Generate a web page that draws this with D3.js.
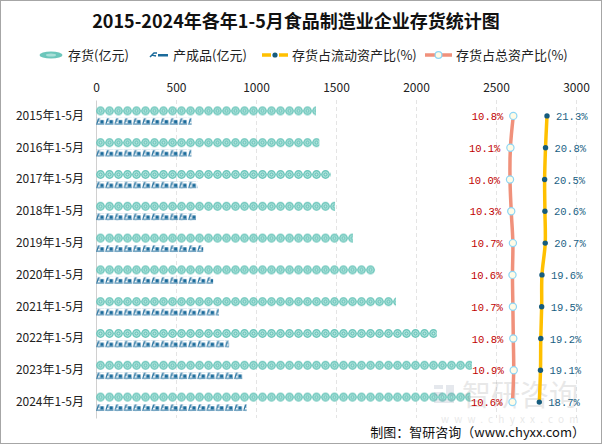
<!DOCTYPE html>
<html>
<head>
<meta charset="utf-8">
<script src="https://cdn.jsdelivr.net/npm/d3@7"></script>
<style>
  body { margin: 0; background: #fff; }
</style>
</head>
<body>
<div id="chart"></div>
<script>
const categories = ["2015年1-5月", "2016年1-5月", "2017年1-5月", "2018年1-5月", "2019年1-5月",
                    "2020年1-5月", "2021年1-5月", "2022年1-5月", "2023年1-5月", "2024年1-5月"];
const inventory = [1375, 1396, 1467, 1494, 1606, 1744, 1875, 2130, 2350, 2340];      // 存货(亿元)
const finishedGoods = [598, 597, 635, 625, 670, 732, 769, 832, 918, 942];           // 产成品(亿元)
const currentRatio = [21.3, 20.8, 20.5, 20.6, 20.7, 19.6, 19.5, 19.2, 19.1, 18.7]; // 存货占流动资产比(%)
const totalRatio = [10.8, 10.1, 10.0, 10.3, 10.7, 10.6, 10.7, 10.8, 10.9, 10.6];   // 存货占总资产比(%)
const xTicks = [0, 500, 1000, 1500, 2000, 2500, 3000];

const width = 602;
const height = 444;
const cjk = "\"Noto Sans CJK SC\", sans-serif";
const mono = "\"Liberation Mono\", \"DejaVu Sans Mono\", monospace";

const svg = d3.select("#chart").append("svg")
    .attr("width", width)
    .attr("height", height)
    .attr("font-family", cjk);

// frame
svg.append("rect")
    .attr("x", 0.5).attr("y", 0.5)
    .attr("width", width - 1).attr("height", height - 1)
    .attr("fill", "#fff")
    .attr("stroke", "#a6a6a6");

// scales
const x = d3.scaleLinear().domain([0, 3000]).range([96, 576]);
const y = d3.scaleBand().domain(categories).range([100, 418]);
const yc = c => y(c) + y.bandwidth() / 2;
// the two ratio series sit on their own hidden axes at the right
const xTotal = d3.scaleLinear().domain([10, 10.8]).range([510, 513.3]);
const xCurrent = d3.scaleLinear().domain([18.7, 21.3]).range([539.3, 547]);

// patterns for the pictorial bars
const defs = svg.append("defs");
const coin = defs.append("pattern")
    .attr("id", "coin")
    .attr("patternUnits", "userSpaceOnUse")
    .attr("x", x(0)).attr("y", -4.5)
    .attr("width", 9).attr("height", 9);
coin.append("circle").attr("cx", 4.5).attr("cy", 4.5).attr("r", 4.4).attr("fill", "#6cc6bb");
coin.append("circle").attr("cx", 4.5).attr("cy", 4.5).attr("r", 2.6)
    .attr("fill", "none").attr("stroke", "#bfe9e3").attr("stroke-width", 0.9);
coin.append("circle").attr("cx", 4.5).attr("cy", 4.5).attr("r", 1).attr("fill", "#bfe9e3");

const truck = defs.append("pattern")
    .attr("id", "truck")
    .attr("patternUnits", "userSpaceOnUse")
    .attr("x", x(0)).attr("y", -3)
    .attr("width", 9.2).attr("height", 7);
truck.append("path")
    .attr("d", "M1,5.5 L2.2,1 L4,1 M1.6,3 L3.4,3")
    .attr("fill", "none").attr("stroke", "#1b6b9b").attr("stroke-width", 1.1);
truck.append("rect").attr("x", 4.2).attr("y", 2.2).attr("width", 3.6).attr("height", 3.3).attr("fill", "#1b6b9b");
truck.append("rect").attr("x", 0).attr("y", 5.6).attr("width", 8.4).attr("height", 1).attr("fill", "#1b6b9b");

// title
svg.append("text")
    .attr("x", 296).attr("y", 28)
    .attr("text-anchor", "middle")
    .attr("font-size", 18)
    .attr("font-weight", "bold")
    .attr("fill", "#111")
    .text("2015-2024年各年1-5月食品制造业企业存货统计图");

// legend
const legend = svg.append("g").attr("font-size", 13).attr("fill", "#222");
const lgY = 55;
legend.append("ellipse").attr("cx", 51).attr("cy", lgY).attr("rx", 11.5).attr("ry", 3.6).attr("fill", "#6cc6bb");
legend.append("ellipse").attr("cx", 51).attr("cy", lgY).attr("rx", 5).attr("ry", 1.5).attr("fill", "#a9dfd8");
legend.append("text").attr("x", 68).attr("y", lgY + 4.5).text("存货(亿元)");

legend.append("path").attr("d", `M150,${lgY + 2} L154,${lgY - 2} L157,${lgY - 2} M152,${lgY} L156,${lgY + 1}`)
    .attr("fill", "none").attr("stroke", "#1b6b9b").attr("stroke-width", 1.5);
legend.append("rect").attr("x", 158).attr("y", lgY - 1).attr("width", 10).attr("height", 2.5).attr("fill", "#1b6b9b");
legend.append("text").attr("x", 173).attr("y", lgY + 4.5).text("产成品(亿元)");

legend.append("line").attr("x1", 262).attr("x2", 288).attr("y1", lgY).attr("y2", lgY)
    .attr("stroke", "#ffc000").attr("stroke-width", 3.5).attr("stroke-dasharray", "9,2.5,3,2.5,9");
legend.append("circle").attr("cx", 275).attr("cy", lgY).attr("r", 2.6).attr("fill", "#165c7e");
legend.append("text").attr("x", 292).attr("y", lgY + 4.5).text("存货占流动资产比(%)");

legend.append("line").attr("x1", 425).attr("x2", 452).attr("y1", lgY).attr("y2", lgY)
    .attr("stroke", "#f0917b").attr("stroke-width", 3.5);
legend.append("circle").attr("cx", 438.5).attr("cy", lgY).attr("r", 3.4)
    .attr("fill", "#fffbe6").attr("stroke", "#8dd6f5").attr("stroke-width", 1.2);
legend.append("text").attr("x", 456).attr("y", lgY + 4.5).text("存货占总资产比(%)");

// grid lines
svg.append("g")
    .selectAll("line")
    .data(xTicks.filter(d => d > 0))
    .join("line")
    .attr("x1", d => x(d) + 0.5).attr("x2", d => x(d) + 0.5)
    .attr("y1", 100).attr("y2", 418)
    .attr("stroke", "#e4e4e4")
    .attr("stroke-dasharray", "4,3");

// top axis
const xAxis = svg.append("g")
    .attr("transform", "translate(0,100)")
    .call(d3.axisTop(x).tickValues(xTicks).tickFormat(d3.format("d")).tickSize(0).tickPadding(8));
xAxis.select(".domain").remove();
xAxis.attr("font-family", cjk).attr("font-size", 12);
xAxis.selectAll("text").attr("fill", "#222");

// left axis
const yAxis = svg.append("g")
    .attr("transform", `translate(${x(0)},0)`)
    .call(d3.axisLeft(y).tickSize(0).tickPadding(12));
yAxis.select(".domain").attr("stroke", "#d0d0d0");
yAxis.attr("font-family", cjk).attr("font-size", 12);
yAxis.selectAll("text").attr("fill", "#222");

// pictorial bars
const rows = svg.append("g")
    .selectAll("g")
    .data(categories)
    .join("g");

rows.append("g")
    .attr("transform", c => `translate(0,${yc(c) - 5})`)
    .append("rect")
    .attr("x", x(0))
    .attr("y", -4.5)
    .attr("width", (c, i) => x(inventory[i]) - x(0))
    .attr("height", 9)
    .attr("fill", "url(#coin)");

rows.append("g")
    .attr("transform", c => `translate(0,${yc(c) + 5})`)
    .append("rect")
    .attr("x", x(0))
    .attr("y", -3)
    .attr("width", (c, i) => x(finishedGoods[i]) - x(0))
    .attr("height", 7)
    .attr("fill", "url(#truck)");

// watermark
const wm = svg.append("g").attr("opacity", 0.22).attr("fill", "#8c9bb0");
wm.append("rect").attr("x", 434).attr("y", 385).attr("width", 9).attr("height", 4);
wm.append("rect").attr("x", 434).attr("y", 392).attr("width", 9).attr("height", 4);
wm.append("rect").attr("x", 434).attr("y", 399).attr("width", 20).attr("height", 4);
wm.append("rect").attr("x", 446).attr("y", 385).attr("width", 8).attr("height", 11);
wm.append("text").attr("x", 462).attr("y", 406).attr("font-size", 29).attr("fill", "#9a9a9a").text("智研咨询");
wm.append("text").attr("x", 441).attr("y", 423).attr("font-size", 10).attr("letter-spacing", 5.2)
    .attr("fill", "#9a9a9a").text("www.chyxx.com");

// ratio lines
const totalPts = categories.map((c, i) => [xTotal(totalRatio[i]), yc(c)]);
const currentPts = categories.map((c, i) => [xCurrent(currentRatio[i]), yc(c)]);
const line = d3.line().curve(d3.curveCatmullRom);

svg.append("path")
    .attr("d", line(totalPts))
    .attr("fill", "none")
    .attr("stroke", "#f0917b")
    .attr("stroke-width", 3.5);

svg.append("path")
    .attr("d", line(currentPts))
    .attr("fill", "none")
    .attr("stroke", "#ffc000")
    .attr("stroke-width", 3.5);

svg.append("g")
    .selectAll("circle")
    .data(totalPts)
    .join("circle")
    .attr("cx", d => d[0]).attr("cy", d => d[1])
    .attr("r", 3.6)
    .attr("fill", "#fffbe6")
    .attr("stroke", "#8dd6f5")
    .attr("stroke-width", 1.2);

svg.append("g")
    .selectAll("circle")
    .data(currentPts)
    .join("circle")
    .attr("cx", d => d[0]).attr("cy", d => d[1])
    .attr("r", 2.7)
    .attr("fill", "#165c7e");

// value labels
svg.append("g")
    .attr("font-family", mono)
    .attr("font-size", 10.5)
    .attr("fill", "#c00000")
    .attr("text-anchor", "end")
    .selectAll("text")
    .data(totalPts)
    .join("text")
    .attr("x", d => d[0] - 10)
    .attr("y", d => d[1] + 4)
    .text((d, i) => totalRatio[i].toFixed(1) + "%");

svg.append("g")
    .attr("font-family", mono)
    .attr("font-size", 10.5)
    .attr("fill", "#1a5f84")
    .selectAll("text")
    .data(currentPts)
    .join("text")
    .attr("x", d => d[0] + 9)
    .attr("y", d => d[1] + 4)
    .text((d, i) => currentRatio[i].toFixed(1) + "%");

// source
svg.append("text")
    .attr("x", 585).attr("y", 437)
    .attr("text-anchor", "end")
    .attr("font-size", 13)
    .attr("fill", "#111")
    .text("制图：智研咨询（www.chyxx.com）");
</script>
</body>
</html>
